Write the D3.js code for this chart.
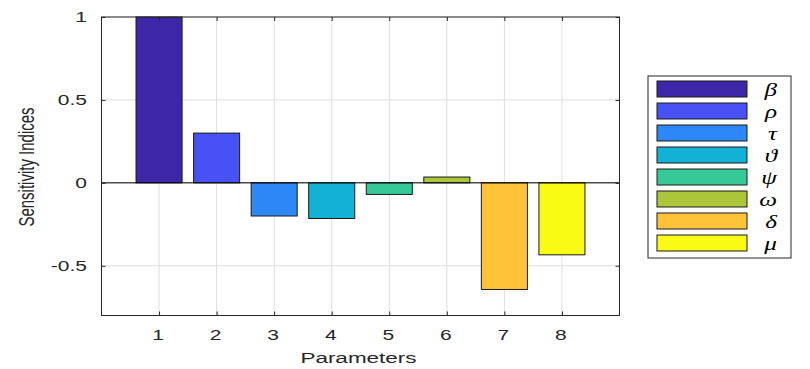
<!DOCTYPE html>
<html>
<head>
<meta charset="utf-8">
<script src="https://cdn.jsdelivr.net/npm/d3@7"></script>
<style>
  html, body { margin: 0; padding: 0; background: #fff; }
  svg { display: block; }
</style>
</head>
<body>
<svg id="chart" width="810" height="369"></svg>
<script>
// ---- data ----
const categories = [1, 2, 3, 4, 5, 6, 7, 8];
const values = [1.0, 0.30, -0.20, -0.215, -0.07, 0.035, -0.643, -0.434];
const seriesNames = ["β", "ρ", "τ", "ϑ", "ψ", "ω", "δ", "μ"];
const colors = ["#3e26a8", "#4852f4", "#2d87f7", "#12b1d6", "#37c897", "#abc739", "#fec338", "#f9fb14"];
const yTicks = [-0.5, 0, 0.5, 1];
const yTickLabels = ["-0.5", "0", "0.5", "1"];
const xTicks = [1, 2, 3, 4, 5, 6, 7, 8];

// ---- layout ----
const L = 101.5, R = 619.5, T = 17, B = 315.5;
const SX = 1.5; // horizontal text stretch seen in the reference
const svg = d3.select("#chart");
const x = d3.scaleLinear().domain([0, 9]).range([L, R]);
const y = d3.scaleLinear().domain([-0.8, 1]).range([B, T]);
const axisColor = "#262626";
const font = "'Liberation Sans', Arial, Helvetica, sans-serif";

// grid
const grid = svg.append("g");
grid.selectAll("line.vx").data(xTicks).join("line")
  .attr("x1", d => x(d)).attr("x2", d => x(d)).attr("y1", T).attr("y2", B)
  .attr("stroke", "#dfdfdf").attr("stroke-width", 1);
grid.selectAll("line.hy").data(yTicks).join("line")
  .attr("x1", L).attr("x2", R).attr("y1", d => y(d)).attr("y2", d => y(d))
  .attr("stroke", "#dfdfdf").attr("stroke-width", 1);

// bars
const bw = 0.8;
svg.append("g").selectAll("rect").data(values).join("rect")
  .attr("x", (d, i) => x(categories[i] - bw / 2))
  .attr("width", x(bw) - x(0))
  .attr("y", d => y(Math.max(0, d)))
  .attr("height", d => Math.abs(y(d) - y(0)))
  .attr("fill", (d, i) => colors[i])
  .attr("stroke", "#1a1a1a").attr("stroke-width", 1);

// baseline
svg.append("line").attr("x1", L).attr("x2", R).attr("y1", y(0)).attr("y2", y(0))
  .attr("stroke", "#000").attr("stroke-width", 1);

// axes (ticks inward)
const gx = svg.append("g").attr("transform", `translate(0,${B})`)
  .call(d3.axisBottom(x).tickValues(xTicks).tickSizeInner(-4).tickSizeOuter(0).tickFormat(""));
const gxTop = svg.append("g").attr("transform", `translate(0,${T})`)
  .call(d3.axisTop(x).tickValues(xTicks).tickSizeInner(-4).tickSizeOuter(0).tickFormat(""));
const gy = svg.append("g").attr("transform", `translate(${L},0)`)
  .call(d3.axisLeft(y).tickValues(yTicks).tickSizeInner(-4).tickSizeOuter(0).tickFormat(""));
const gyR = svg.append("g").attr("transform", `translate(${R},0)`)
  .call(d3.axisRight(y).tickValues(yTicks).tickSizeInner(-4).tickSizeOuter(0).tickFormat(""));
[gx, gxTop, gy, gyR].forEach(g => {
  g.select(".domain").remove();
  g.selectAll(".tick line").attr("stroke", axisColor);
});

// box
svg.append("rect").attr("x", L).attr("y", T).attr("width", R - L).attr("height", B - T)
  .attr("fill", "none").attr("stroke", axisColor).attr("stroke-width", 1);

// tick labels
svg.append("g").selectAll("text").data(xTicks).join("text")
  .attr("transform", d => `translate(${x(d) - 1},340) scale(${SX},1)`)
  .attr("text-anchor", "middle")
  .attr("font-family", font).attr("font-size", 14).attr("fill", axisColor)
  .text(d => d);
svg.append("g").selectAll("text").data(yTicks).join("text")
  .attr("transform", d => `translate(87,${y(d) + 5}) scale(${SX},1)`)
  .attr("text-anchor", "end")
  .attr("font-family", font).attr("font-size", 14).attr("fill", axisColor)
  .text((d, i) => yTickLabels[i]);

// axis titles
svg.append("text")
  .attr("transform", `translate(${(L + R) / 2 - 2},363) scale(${SX},1)`)
  .attr("text-anchor", "middle")
  .attr("font-family", font).attr("font-size", 15).attr("fill", axisColor)
  .text("Parameters");
svg.append("text")
  .attr("transform", `translate(34,167) scale(${SX},1) rotate(-90)`)
  .attr("text-anchor", "middle")
  .attr("font-family", font).attr("font-size", 15).attr("fill", axisColor)
  .text("Sensitivity Indices");

// legend
const lg = svg.append("g");
lg.append("rect").attr("x", 648).attr("y", 76).attr("width", 143).attr("height", 182)
  .attr("fill", "#fff").attr("stroke", axisColor).attr("stroke-width", 1);
const rowY = i => 81 + i * 22;
lg.selectAll("rect.sw").data(seriesNames).join("rect")
  .attr("class", "sw")
  .attr("x", 657).attr("y", (d, i) => rowY(i)).attr("width", 90).attr("height", 16)
  .attr("fill", (d, i) => colors[i]).attr("stroke", "#1a1a1a").attr("stroke-width", 1);
lg.selectAll("text").data(seriesNames).join("text")
  .attr("transform", (d, i) => `translate(777,${rowY(i) + 15}) scale(1.4,1)`)
  .attr("text-anchor", "end")
  .attr("font-family", "'Liberation Serif', 'DejaVu Serif', serif")
  .attr("font-style", "italic").attr("font-size", 18).attr("fill", "#000")
  .text(d => d);
</script>
</body>
</html>
